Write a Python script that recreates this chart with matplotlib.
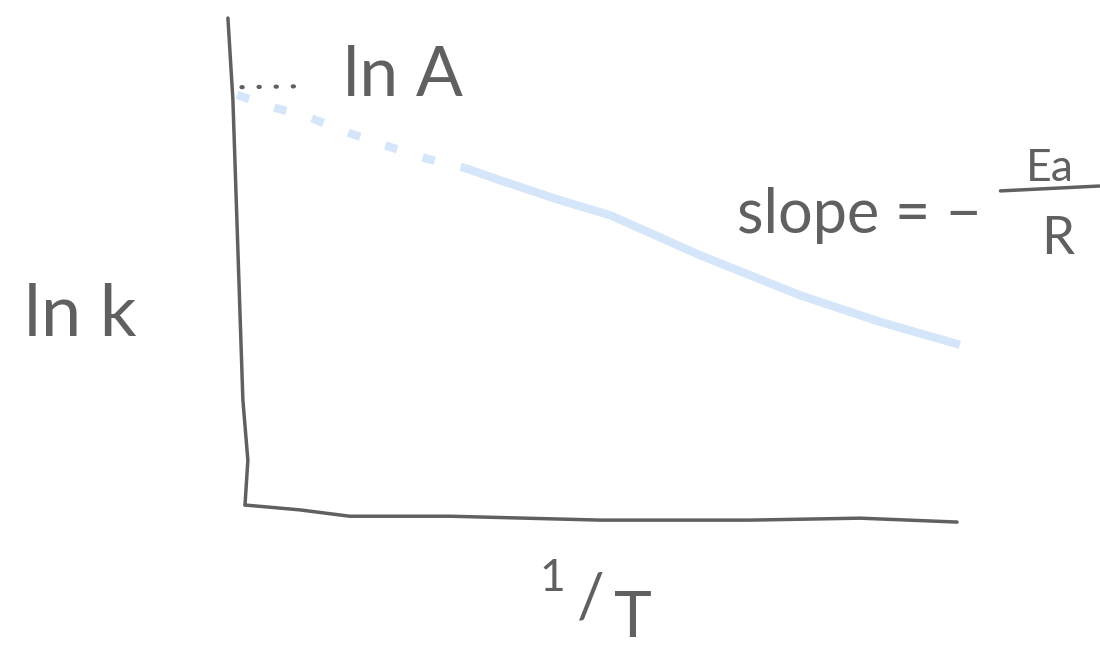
import matplotlib
matplotlib.use("Agg")
import matplotlib.pyplot as plt

# ---- data (sketch units: 1/T on x, ln k on y) ----
fit_x = [3.09, 3.58, 4.42, 5.13, 6.39, 7.79, 8.92, 10.04]
fit_y = [6.92, 6.67, 6.26, 5.95, 5.13, 4.31, 3.76, 3.29]
extrap_x = [-0.11, 0.39, 0.88, 1.46, 2.04, 2.58, 3.09]
extrap_y = [8.42, 8.17, 7.97, 7.64, 7.35, 7.10, 6.92]
yaxis_x = [-0.24, -0.17, -0.10, -0.03, 0.04, 0.0]
yaxis_y = [10.0, 8.32, 5.24, 2.16, 0.92, 0.0]
xaxis_x = [0.0, 0.77, 1.47, 2.88, 4.99, 7.09, 8.64, 10.0]
xaxis_y = [0.0, -0.10, -0.23, -0.23, -0.31, -0.31, -0.27, -0.35]
lnA_x = [-0.05, 0.87]
lnA_y = [8.58, 8.60]

GRAY = "#606060"
BLUE = "#d5e6fb"
FONT = ["Lato", "DejaVu Sans"]

fig = plt.figure(figsize=(11, 6.48), dpi=100)
ax = fig.add_axes([0, 0, 1, 1])
ax.set_xlim(-3.441, 12.008)
ax.set_ylim(-2.936, 10.370)
ax.axis("off")

# fitted line and extrapolation
ax.plot(fit_x, fit_y, color=BLUE, lw=6.0, solid_capstyle="butt",
        solid_joinstyle="round", zorder=2)
ax.plot(extrap_x, extrap_y, color=BLUE, lw=6.0, dashes=(1.5, 3.2),
        dash_capstyle="butt", zorder=2)

# hand-drawn axes
ax.plot(yaxis_x, yaxis_y, color=GRAY, lw=2.5, solid_capstyle="round",
        solid_joinstyle="round", zorder=3)
ax.plot(xaxis_x, xaxis_y, color=GRAY, lw=2.5, solid_capstyle="round",
        solid_joinstyle="round", zorder=3)

# dotted line to ln A
ax.plot(lnA_x, lnA_y, color=GRAY, lw=3.0, linestyle=(0, (0.3, 3.8)),
        dash_capstyle="round", zorder=3)

txt = dict(color=GRAY, family=FONT, fontweight="normal", ha="center", va="center")
ax.text(2.22, 8.80, "ln A", fontsize=50, **txt)
ax.text(-2.32, 3.90, "ln k", fontsize=52, **txt)
ax.text(8.62, 5.95, "slope = \u2212", fontsize=44, **txt)
ax.text(11.31, 6.90, "Ea", fontsize=32, **txt)
ax.plot([10.61, 12.0], [6.45, 6.55], color=GRAY, lw=2.5, solid_capstyle="round")
ax.text(11.42, 5.45, "R", fontsize=38, **txt)
ax.text(4.31, -1.50, "1", fontsize=32, **txt)
ax.text(4.85, -1.95, "/", fontsize=44, **txt)
ax.text(5.45, -2.35, "T", fontsize=46, **txt)

fig.savefig("out.png", dpi=100)
